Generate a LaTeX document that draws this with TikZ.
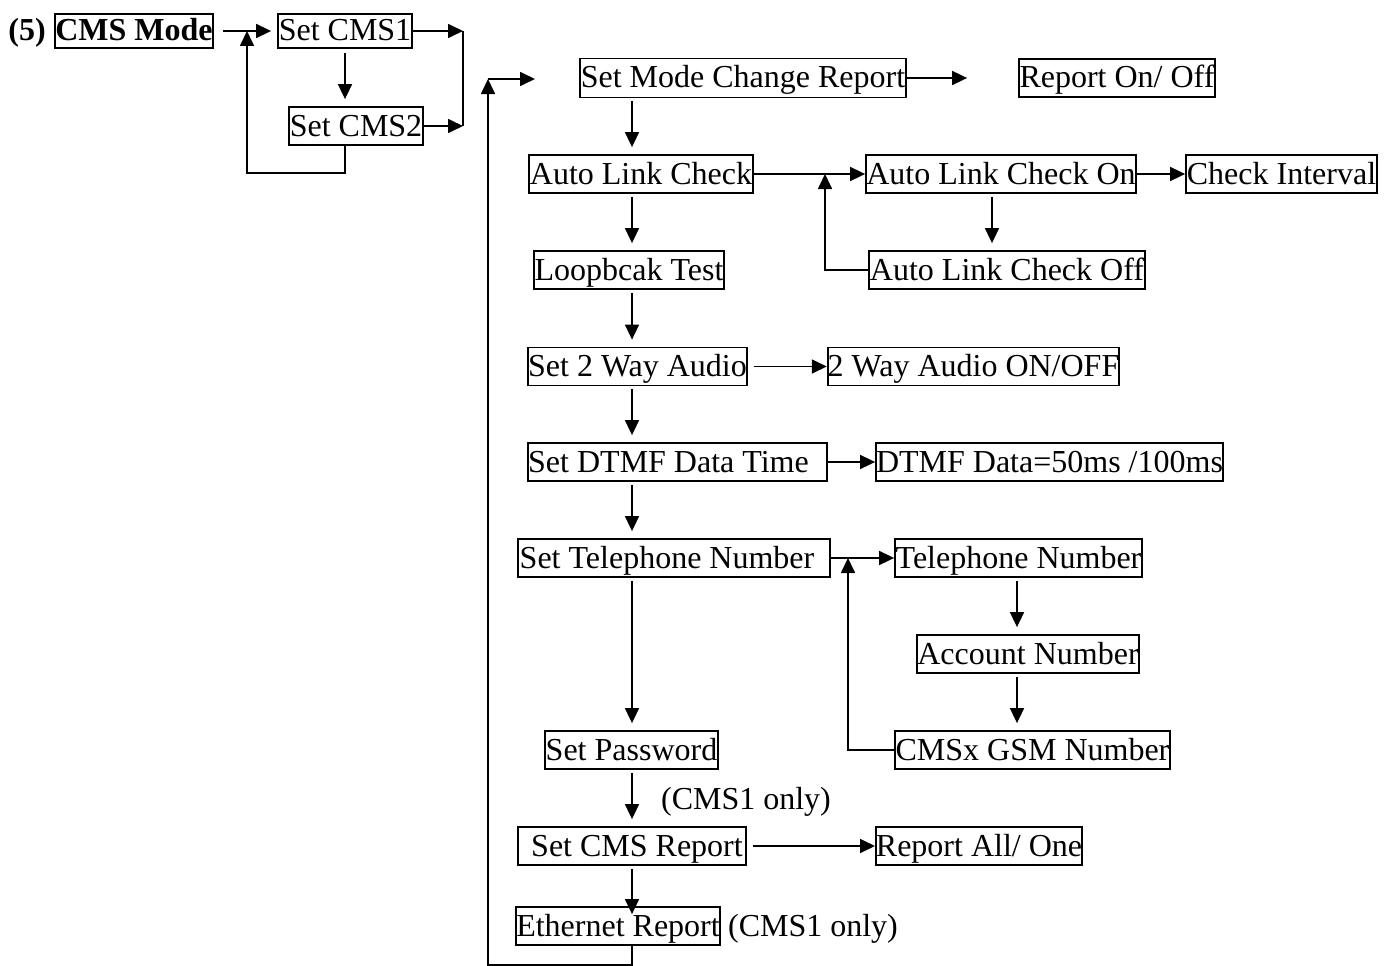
\documentclass[tikz,border=0pt]{standalone}
\usepackage{fontspec}
\setmainfont{Liberation Serif}
\usetikzlibrary{arrows.meta,calc}
\tikzset{
 txt/.style={font=\fontsize{32}{37}\selectfont},
 bx/.style={draw, line width=1.8pt, inner sep=0pt, minimum height=38pt, text height=25pt, text depth=5pt, txt},
 lbl/.style={inner sep=0pt, text height=25pt, text depth=5pt, txt},
 bold/.style={font=\bfseries\fontsize{32}{37}\selectfont},
 arr/.style={line width=1.7pt, -{Triangle[length=15pt,width=14pt]}},
 ln/.style={line width=1.7pt},
 dn/.style={arr, shorten <=3pt, shorten >=7pt},
}
\begin{document}
\begin{tikzpicture}[x=1pt,y=-1pt]
\useasboundingbox (0,0) rectangle (1390,966);
% nodes
\node[lbl, bold] (five) at (27,31) {(5)};
\node[bx, bold, minimum width=158pt, minimum height=34pt] (mode) at (134,31) {CMS Mode};
\node[bx, minimum width=134pt, minimum height=34pt] (cms1) at (345,31) {Set CMS1};
\node[bx, minimum width=134pt] (cms2) at (356,126) {Set CMS2};
\node[bx, minimum width=326pt, minimum height=39pt] (smcr) at (743,78) {Set Mode Change Report};
\node[bx, minimum width=196pt] (ronoff) at (1117,78) {Report On/ Off};
\node[bx, minimum width=224pt] (alc) at (641,174) {Auto Link Check};
\node[bx, minimum width=270pt] (alcon) at (1001,174) {Auto Link Check On};
\node[bx, minimum width=191pt] (ci) at (1281.5,174) {Check Interval};
\node[bx, minimum width=276pt] (alcoff) at (1007,270) {Auto Link Check Off};
\node[bx, minimum width=190pt] (loop) at (629,270) {Loopbcak Test};
\node[bx, minimum width=217pt] (s2wa) at (637.5,366.5) {Set 2 Way Audio};
\node[bx, minimum width=291pt] (wa) at (973.5,366.5) {2 Way Audio ON/OFF};
\node[bx, minimum width=297pt] (sdtmf) at (677.5,462) {Set DTMF Data Time\hspace*{18pt}};
\node[bx, minimum width=347pt] (dtmf) at (1049.5,462) {DTMF Data=50ms /100ms};
\node[bx, minimum width=312pt] (stel) at (674,558) {Set Telephone Number\hspace*{14pt}};
\node[bx, minimum width=247pt] (tel) at (1018.5,558) {Telephone Number};
\node[bx, minimum width=222pt] (acc) at (1028,654) {Account Number};
\node[bx, minimum width=275pt] (gsm) at (1032.5,750) {CMSx GSM Number};
\node[bx, minimum width=173pt] (spw) at (631.5,750) {Set Password};
\node[lbl] (only1) at (746,799) {(CMS1 only)};
\node[bx, minimum width=228pt] (scms) at (632,846) {\hspace*{10pt}Set CMS Report};
\node[bx, minimum width=206pt] (rall) at (979,846) {Report All/ One};
\node[bx, minimum width=204pt] (eth) at (618,926) {Ethernet Report};
\node[lbl] (only2) at (813,926) {(CMS1 only)};
% coordinates
\coordinate (xa) at (345,0);
\coordinate (mx) at (632,0);
\coordinate (xb) at (992,0);
\coordinate (xc) at (1017,0);
\coordinate (j1) at (247,31);
\coordinate (l1) at (345,173);
\coordinate (l2) at (247,173);
\coordinate (j2) at (463,31);
\coordinate (j3) at (463,126);
\coordinate (lb1) at (632,965);
\coordinate (lb2) at (488,965);
\coordinate (lt) at (488,79);
\coordinate (le) at (535,79);
\coordinate (fa) at (825,174);
\coordinate (fb) at (848,558);
% top part
\draw[arr, shorten <=9pt, shorten >=6pt] (mode.east) -- (cms1.west);
\draw[arr, shorten <=4pt, shorten >=7pt] (cms1.south -| xa) -- (cms2.north -| xa);
\draw[arr] (cms2.south -| xa) -- (l1) -- (l2) -- (j1);
\draw[arr] (cms1.east) -- (j2);
\draw[arr] (cms2.east) -- (j3);
\draw[ln] (j2) -- (j3);
% big loop
\draw[arr] (eth.south -| mx) -- (lb1) -- (lb2) -- (lt);
\draw[arr] (lt) -- (le);
% horizontal arrows
\draw[arr, shorten >=51pt] (smcr.east) -- (ronoff.west);
\draw[arr] (alc.east) -- (alcon.west);
\draw[arr] (alcon.east) -- (ci.west);
\draw[arr, shorten <=6pt] (s2wa.east) -- (wa.west);
\draw[arr] (sdtmf.east) -- (dtmf.west);
\draw[arr] (stel.east) -- (tel.west);
\draw[arr, shorten <=6pt] (scms.east) -- (rall.west);
% vertical main chain
\draw[dn] (smcr.south -| mx) -- (alc.north -| mx);
\draw[dn] (alc.south -| mx) -- (loop.north -| mx);
\draw[dn] (loop.south -| mx) -- (s2wa.north -| mx);
\draw[dn] (s2wa.south -| mx) -- (sdtmf.north -| mx);
\draw[dn] (sdtmf.south -| mx) -- (stel.north -| mx);
\draw[dn] (stel.south -| mx) -- (spw.north -| mx);
\draw[dn] (spw.south -| mx) -- (scms.north -| mx);
\draw[arr, shorten <=3pt, shorten >=-8pt] (scms.south -| mx) -- (eth.north -| mx);
% side chains
\draw[dn] (alcon.south -| xb) -- (alcoff.north -| xb);
\draw[dn] (tel.south -| xc) -- (acc.north -| xc);
\draw[dn] (acc.south -| xc) -- (gsm.north -| xc);
% feedbacks
\draw[arr] (alcoff.west) -| (fa);
\draw[arr] (gsm.west) -| (fb);
\end{tikzpicture}
\end{document}
